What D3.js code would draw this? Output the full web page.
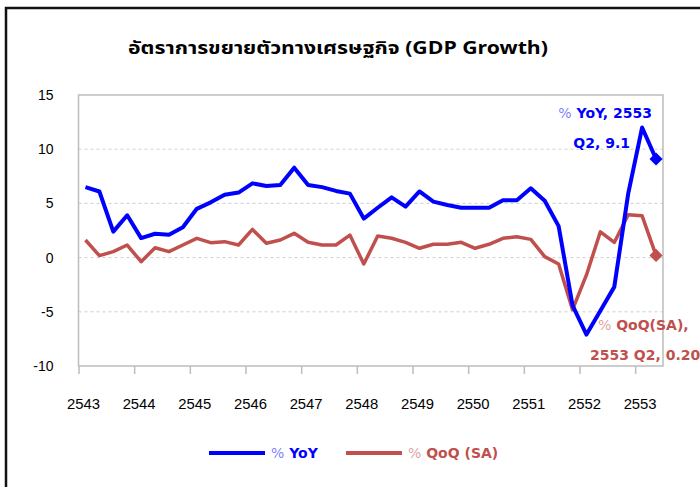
<!DOCTYPE html>
<html>
<head>
  <meta charset='utf-8'>
  <script src='https://cdn.jsdelivr.net/npm/d3@7/dist/d3.min.js'></script>
  <style>
    body { margin: 0; background: #fff; }
    text { font-family: 'Liberation Sans', Arial, sans-serif; }
    .bold { font-family: 'DejaVu Sans', Verdana, sans-serif; font-weight: bold; }
  </style>
</head>
<body>
<div id='chart'></div>
<script>
// years on the category axis (Buddhist era), data runs 2543 Q1 .. 2553 Q2
var years = ['2543', '2544', '2545', '2546', '2547', '2548', '2549', '2550', '2551', '2552', '2553'];
var quarters = years.flatMap(function(y) {
  return ['Q1', 'Q2', 'Q3', 'Q4'].map(function(q) { return y + ' ' + q; });
}).slice(0, 42);

// % YoY
var yoy = [6.5, 6.1, 2.4, 3.9, 1.8, 2.2, 2.1, 2.8, 4.5, 5.1,
  5.8, 6.0, 6.85, 6.6, 6.7, 8.3, 6.7, 6.5, 6.15, 5.9,
  3.6, 4.6, 5.56, 4.7, 6.1, 5.16, 4.85, 4.6, 4.6, 4.6,
  5.3, 5.3, 6.4, 5.25, 2.9, -4.4, -7.1, -4.9, -2.7, 5.9,
  12.0, 9.1];

// % QoQ (SA)
var qoq = [1.62, 0.18, 0.55, 1.16, -0.38, 0.91, 0.55, 1.16, 1.78, 1.38,
  1.47, 1.16, 2.6, 1.32, 1.62, 2.24, 1.41, 1.16, 1.16, 2.08,
  -0.59, 2.0, 1.78, 1.41, 0.86, 1.23, 1.23, 1.41, 0.86, 1.23,
  1.78, 1.93, 1.68, 0.09, -0.59, -4.8, -1.6, 2.38, 1.4, 3.95,
  3.85, 0.2];

var yTicks = [-10, -5, 0, 5, 10, 15];
var gridTicks = [-5, 0, 5, 10];

var width = 700, height = 487;
var margin = { top: 95, right: 37, bottom: 121, left: 78.5 };

var blue = '#0000ff', red = '#c0504d';

var svg = d3.select('#chart').append('svg')
  .attr('width', width)
  .attr('height', height);

// outer frame (cut at right and bottom like the screenshot)
svg.append('rect')
  .attr('x', 6).attr('y', 8)
  .attr('width', 720).attr('height', 500)
  .attr('fill', 'none')
  .attr('stroke', '#111')
  .attr('stroke-width', 2.5);

svg.append('text')
  .attr('x', 338).attr('y', 54)
  .attr('text-anchor', 'middle')
  .attr('textLength', 420)
  .attr('lengthAdjust', 'spacingAndGlyphs')
  .style('font-size', '18px')
  .style('font-weight', 'bold')
  .style('font-family', "Tahoma, 'Noto Sans Thai', 'Liberation Sans', sans-serif")
  .text('อัตราการขยายตัวทางเศรษฐกิจ (GDP Growth)');

var x = d3.scalePoint()
  .domain(quarters)
  .range([margin.left, width - margin.right])
  .padding(0.5);
var step = x.step();

var y = d3.scaleLinear()
  .domain([-10, 15])
  .range([height - margin.bottom, margin.top]);

// gridlines
svg.append('g')
  .selectAll('line')
  .data(gridTicks)
  .enter()
  .append('line')
  .attr('x1', margin.left).attr('x2', width - margin.right)
  .attr('y1', function(d) { return y(d); })
  .attr('y2', function(d) { return y(d); })
  .attr('stroke', '#cfcfcf')
  .attr('stroke-dasharray', '3,3');

// plot frame
svg.append('rect')
  .attr('x', margin.left).attr('y', margin.top)
  .attr('width', width - margin.left - margin.right)
  .attr('height', height - margin.top - margin.bottom)
  .attr('fill', 'none')
  .attr('stroke', '#bdbdbd')
  .attr('stroke-width', 1.5);

// x axis: ticks at year boundaries, labels under them
var xAxis = svg.append('g')
  .attr('transform', 'translate(0,' + (height - margin.bottom) + ')')
  .call(d3.axisBottom(x)
    .tickValues(quarters.filter(function(d) { return d.slice(5) === 'Q1'; }))
    .tickFormat(function(d) { return d.slice(0, 4); })
    .tickSize(8));
xAxis.select('.domain').remove();
xAxis.selectAll('.tick line')
  .attr('stroke', '#bdbdbd')
  .attr('stroke-width', 1.5)
  .attr('transform', 'translate(' + (-step / 2) + ',0)');
xAxis.selectAll('.tick text')
  .attr('x', -2.5)
  .attr('y', 43)
  .attr('dy', null)
  .attr('fill', '#000')
  .attr('textLength', 33)
  .attr('lengthAdjust', 'spacingAndGlyphs')
  .style('font-size', '14px')
  .style('font-family', "'Liberation Sans', Arial, sans-serif");

var yAxis = svg.append('g')
  .attr('transform', 'translate(' + margin.left + ',0)')
  .call(d3.axisLeft(y)
    .tickValues(yTicks)
    .tickFormat(function(d) { return String(d); })
    .tickSize(0)
    .tickPadding(25));
yAxis.select('.domain').remove();
yAxis.selectAll('.tick text')
  .attr('fill', '#000')
  .style('font-size', '14px')
  .style('font-family', "'Liberation Sans', Arial, sans-serif");

var line = d3.line()
  .x(function(d, i) { return x(quarters[i]); })
  .y(function(d) { return y(d); });

svg.append('path')
  .datum(qoq)
  .attr('d', line)
  .attr('fill', 'none')
  .attr('stroke', red)
  .attr('stroke-width', 3.5)
  .attr('stroke-linejoin', 'round');

svg.append('path')
  .datum(yoy)
  .attr('d', line)
  .attr('fill', 'none')
  .attr('stroke', blue)
  .attr('stroke-width', 4)
  .attr('stroke-linejoin', 'round');

// diamond on the latest quarter
var last = quarters.length - 1;
[[qoq, red], [yoy, blue]].forEach(function(s) {
  svg.append('path')
    .attr('d', d3.symbol().type(d3.symbolDiamond2).size(110)())
    .attr('transform', 'translate(' + x(quarters[last]) + ',' + y(s[0][last]) + ')')
    .attr('fill', s[1]);
});

function label(txt, xx, yy, color, anchor) {
  var t = svg.append('text')
    .attr('class', 'bold')
    .attr('x', xx).attr('y', yy)
    .attr('text-anchor', anchor)
    .attr('fill', color)
    .style('font-size', '14px');
  if (txt.charAt(0) === '%') {
    t.append('tspan').attr('fill-opacity', 0.55).style('font-weight', 'normal').text('%');
    t.append('tspan').text(txt.slice(1));
  } else {
    t.text(txt);
  }
}

label('% YoY, 2553', 652, 118, blue, 'end');
label('Q2, 9.1', 630, 148, blue, 'end');
label('% QoQ(SA),', 598, 330, red, 'start');
label('2553 Q2, 0.20', 590, 360, red, 'start');

// legend
var legend = [['% YoY', blue, 209], ['% QoQ (SA)', red, 346]];
legend.forEach(function(l) {
  svg.append('line')
    .attr('x1', l[2]).attr('x2', l[2] + 56)
    .attr('y1', 453).attr('y2', 453)
    .attr('stroke', l[1])
    .attr('stroke-width', 4);
  label(l[0], l[2] + 62, 458, l[1], 'start');
});
</script>
</body>
</html>
